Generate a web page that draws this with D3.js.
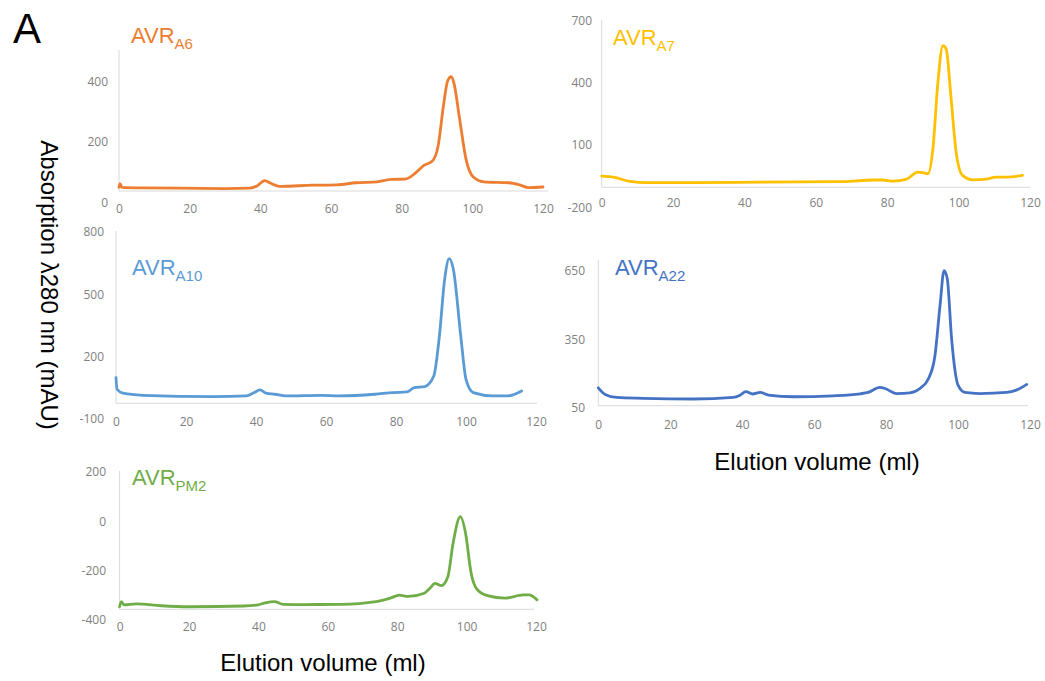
<!DOCTYPE html>
<html>
<head>
<meta charset="utf-8">
<script src="https://cdn.jsdelivr.net/npm/d3@7"></script>
<style>
  body { margin: 0; background: #fff; }
  svg { display: block; font-family: "Liberation Sans", Arial, sans-serif; }
  .tick text { fill: #7f7f7f; font-size: 12px; font-family: "Open Sans", "Liberation Sans", sans-serif; }
</style>
</head>
<body>
<div id="output"></div>
<script>
(function () {

"use strict";

// elution volume ticks shared by every panel
var volumeTicks = [0, 20, 40, 60, 80, 100, 120]

// AVR A6
var a6Volume = [0, 0.3, 0.8, 6.5, 17.5, 30, 36.8, 38.8, 41.3, 42.8, 45.8, 54.8, 61.7, 67, 73, 77, 81, 83.7, 86.3, 88.8, 90.3, 91.8, 93, 94, 94.8, 96.3, 98.3, 100.3, 103.3, 110.4, 113.4, 115.9, 120]
var a6Abs    = [50, 62, 50, 48, 47, 46, 47, 53, 72, 64, 53, 57, 58, 65, 68, 76, 77, 95, 122, 138, 185, 316, 400, 414, 393, 283, 138, 84, 68, 65, 58, 49, 51]
var a6Ticks  = [0, 200, 400]

// AVR A7
var a7Volume = [0, 3.3, 7.9, 12.6, 25.6, 44.3, 67.6, 76, 78.8, 81.6, 85.3, 88.6, 90, 91.4, 92.8, 94.2, 95.6, 96.5, 97.9, 99.3, 101.1, 104, 107.7, 110.5, 113.3, 117.9]
var a7Abs    = [-51, -56, -77, -83, -83, -80, -78, -70, -70, -75, -67, -32, -35, -40, 80, 401, 577, 561, 321, 64, -48, -69, -66, -56, -56, -48]
var a7Ticks  = [-200, 100, 400, 700]

// AVR A10
var a10Volume = [0, 0.3, 2, 7.7, 28, 37.2, 39.5, 41.1, 42.9, 45.4, 48.5, 58.7, 63.8, 74, 79.1, 83.2, 85.2, 88.2, 90.8, 92.4, 93.9, 95.2, 96.4, 98.5, 100, 102.1, 107.7, 111.8, 115.9]
var a10Abs    = [96, 40, 21, 11, 5, 8, 24, 37, 21, 16, 8, 11, 8, 16, 24, 27, 48, 53, 104, 297, 570, 670, 618, 297, 88, 24, 8, 8, 32]
var a10Ticks  = [-100, 200, 500, 800]

// AVR A22
var a22Volume = [0, 1.9, 5.1, 12.5, 26.4, 37.5, 39.4, 41, 42.9, 45, 47.3, 54.2, 65.3, 72.8, 75, 78.3, 79.7, 82.9, 86.6, 89.4, 91.8, 93.6, 95, 96.1, 97, 98.2, 100, 101.9, 106, 113.5, 116.2, 119.1]
var a22Abs    = [137, 108, 95, 91, 88, 95, 105, 120, 110, 117, 105, 98, 102, 111, 117, 139, 134, 112, 115, 134, 178, 280, 499, 650, 616, 353, 149, 117, 112, 117, 127, 152]
var a22Ticks  = [50, 350, 650]

// AVR PM2
var pm2Volume = [0, 0.5, 1.2, 4.8, 12, 20.3, 35.7, 39.9, 42, 44.6, 47.2, 53.4, 63.7, 73.9, 78, 80.6, 83.2, 87.8, 89.4, 90.9, 92.7, 94.6, 96.1, 98.2, 99.7, 101.3, 102.8, 106, 111.1, 116.3, 118, 120.3]
var pm2Abs    = [-349, -328, -341, -337, -345, -349, -346, -341, -333, -328, -339, -340, -339, -328, -314, -302, -307, -294, -274, -254, -263, -227, -91, 17, -50, -212, -274, -304, -314, -301, -301, -321]
var pm2Ticks  = [-400, -200, 0, 200]

var panels = [
  { sub: "A6",  color: "#ED7D31", vol: a6Volume,  abs: a6Abs,  ticks: a6Ticks,
    x0: 119, x1: 543, yPx: [202.5, 81], top: 50, bottom: 191, right: 548, xLab: 209, yLab: 108, tx: 131, ty: 43 },
  { sub: "A7",  color: "#FFC000", vol: a7Volume,  abs: a7Abs,  ticks: a7Ticks,
    x0: 601.7, x1: 1030, yPx: [207, 20], top: 20, bottom: 187.3, right: 1030, xLab: 203, yLab: 592, tx: 613, ty: 45 },
  { sub: "A10", color: "#5B9BD5", vol: a10Volume, abs: a10Abs, ticks: a10Ticks,
    x0: 116, x1: 536, yPx: [418.3, 231.7], top: 231, bottom: 403.3, right: 537, xLab: 421.7, yLab: 104, tx: 132, ty: 275 },
  { sub: "A22", color: "#4472C4", vol: a22Volume, abs: a22Abs, ticks: a22Ticks,
    x0: 598.3, x1: 1030, yPx: [407.7, 270.7], top: 260, bottom: 405.7, right: 1028, xLab: 424.3, yLab: 585, tx: 615, ty: 275 },
  { sub: "PM2", color: "#70AD47", vol: pm2Volume, abs: pm2Abs, ticks: pm2Ticks,
    x0: 119.6, x1: 536, yPx: [619.3, 471.7], top: 471, bottom: 609.3, right: 534, xLab: 626.7, yLab: 106, tx: 132, ty: 485 }
]

var svg = d3.select("#output").append("svg").attr("width", 1045).attr("height", 681)
  , plain = function (d) { return String(d) }   // keep the ascii hyphen like the original

panels.forEach(function (p) {
  var g = svg.append("g")
    , x = d3.scaleLinear().domain([0, 120]).range([p.x0, p.x1])
    , y = d3.scaleLinear().domain([p.ticks[0], p.ticks[p.ticks.length - 1]]).range(p.yPx)
    , pts = p.vol.map(function (v, i) { return [v, p.abs[i]] })

  // light frame lines
  g.append("line").attr("x1", p.x0).attr("x2", p.x0).attr("y1", p.top).attr("y2", p.bottom)
    .style("stroke", "#d9d9d9")
  g.append("line").attr("x1", p.x0).attr("x2", p.right).attr("y1", p.bottom).attr("y2", p.bottom)
    .style("stroke", "#d9d9d9")

  // axes: labels only
  var ya = g.append("g").attr("transform", "translate(" + p.yLab + ",0)")
    .call(d3.axisLeft(y).tickValues(p.ticks).tickFormat(plain).tickSize(0).tickPadding(0))
  ya.select(".domain").remove()
  ya.selectAll("text").attr("x", 0).attr("dy", "0.35em")

  var xa = g.append("g").attr("transform", "translate(0," + p.xLab + ")")
    .call(d3.axisBottom(x).tickValues(volumeTicks).tickFormat(plain).tickSize(0).tickPadding(0))
  xa.select(".domain").remove()
  xa.selectAll("text").attr("y", 0).attr("dy", "0.35em")

  // trace
  g.append("path").datum(pts)
    .attr("d", d3.line().x(function (d) { return x(d[0]) }).y(function (d) { return y(d[1]) }).curve(d3.curveMonotoneX))
    .style("fill", "none").style("stroke", p.color).style("stroke-width", 2.8)
    .style("stroke-linejoin", "round").style("stroke-linecap", "round")

  // panel title
  var t = g.append("text").attr("x", p.tx).attr("y", p.ty).style("fill", p.color).style("font-size", "22px")
  t.append("tspan").text("AVR")
  t.append("tspan").attr("dy", 6).style("font-size", "15px").text(p.sub)
})

// shared labels
svg.append("text").attr("x", 13).attr("y", 43).style("font-size", "42px").text("A")

svg.append("text").attr("transform", "translate(41,285) rotate(90)")
  .attr("text-anchor", "middle").style("font-size", "24px")
  .text("Absorption \u03bb280 nm (mAU)")

svg.append("text").attr("x", 817).attr("y", 470).attr("text-anchor", "middle").style("font-size", "24px")
  .text("Elution volume (ml)")
svg.append("text").attr("x", 323).attr("y", 671).attr("text-anchor", "middle").style("font-size", "24px")
  .text("Elution volume (ml)")

}())
</script>
</body>
</html>
